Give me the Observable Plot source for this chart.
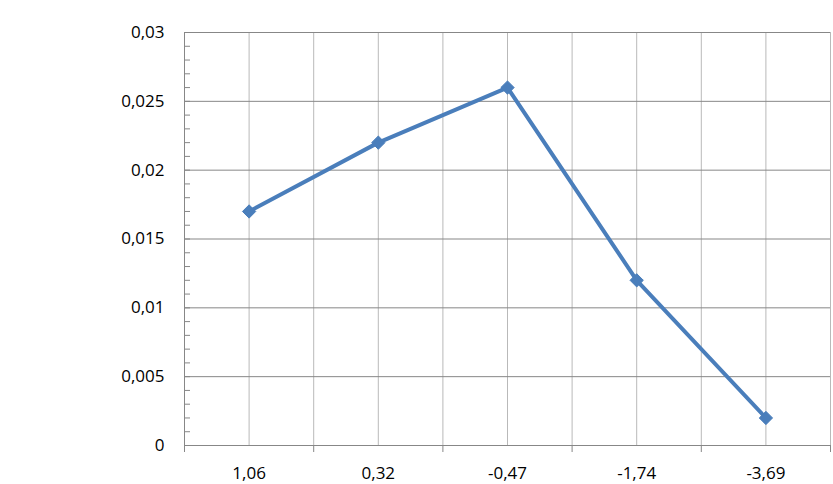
<!DOCTYPE html>
<html>
<head>
<meta charset="utf-8">
<script src="https://cdn.jsdelivr.net/npm/d3@7"></script>
<script src="https://cdn.jsdelivr.net/npm/@observablehq/plot@0.6"></script>
<style>
  html, body { margin: 0; padding: 0; background: #ffffff; }
  #chart svg { display: block; }
</style>
</head>
<body>
<div id="chart"></div>
<script>
const categories = ["1,06", "0,32", "-0,47", "-1,74", "-3,69"];
const values = [0.017, 0.022, 0.026, 0.012, 0.002];
const yTicks = [0, 0.005, 0.01, 0.015, 0.02, 0.025, 0.03];
const yTickLabels = ["0", "0,005", "0,01", "0,015", "0,02", "0,025", "0,03"];
const yMinorTicks = d3.range(0, 31).map(i => i / 1000);

const data = categories.map((c, i) => ({ i, category: c, value: values[i] }));
const centers = categories.map((c, i) => i);
const boundaries = d3.range(0, categories.length + 1).map(i => i - 0.5);
const xMin = -0.5, xMax = categories.length - 0.5;
const yMax = yTicks[yTicks.length - 1];

const gridV = "#b9b9b9";
const gridH = "#878787";
const axisC = "#878787";
const lineC = "#4a7ebb";

const chart = Plot.plot({
  width: 833,
  height: 484,
  marginLeft: 184,
  marginRight: 3,
  marginTop: 32,
  marginBottom: 39,
  style: { fontFamily: "'Open Sans', sans-serif", fontSize: "17px", color: "#000", background: "#fff", overflow: "visible" },
  x: { type: "linear", domain: [xMin, xMax], axis: null },
  y: { type: "linear", domain: [0, yMax], axis: null },
  marks: [
    Plot.ruleX(centers, { x: d => d, y1: 0, y2: yMax, stroke: gridV, strokeWidth: 1 }),
    Plot.ruleX(boundaries, { x: d => d, y1: 0, y2: yMax, stroke: gridV, strokeWidth: 1 }),
    Plot.ruleY(yTicks, { y: d => d, x1: xMin, x2: xMax, stroke: gridH, strokeWidth: 1 }),
    Plot.ruleY(yMinorTicks, { y: d => d, x1: xMin, x2: xMin, insetRight: -6, stroke: axisC, strokeWidth: 1 }),
    Plot.ruleX(boundaries, { x: d => d, y1: 0, y2: 0, insetBottom: -7, stroke: axisC, strokeWidth: 1 }),
    Plot.ruleX([xMin], { y1: 0, y2: yMax, stroke: axisC, strokeWidth: 1 }),
    Plot.ruleY([0], { x1: xMin, x2: xMax, stroke: axisC, strokeWidth: 1 }),
    Plot.axisY(yTicks, { anchor: "left", label: null, tickSize: 0, tickPadding: 20, tickFormat: d => yTickLabels[yTicks.indexOf(d)], fill: "#000" }),
    Plot.axisX(centers, { anchor: "bottom", label: null, tickSize: 0, tickPadding: 21, tickFormat: d => categories[d], fill: "#000" }),
    Plot.line(data, { x: "i", y: "value", stroke: lineC, strokeWidth: 4, strokeLinejoin: "round" }),
    Plot.dot(data, { x: "i", y: "value", symbol: "diamond2", r: 6, fill: lineC, stroke: lineC, strokeWidth: 1 })
  ]
});
document.getElementById("chart").appendChild(chart);
</script>
</body>
</html>
